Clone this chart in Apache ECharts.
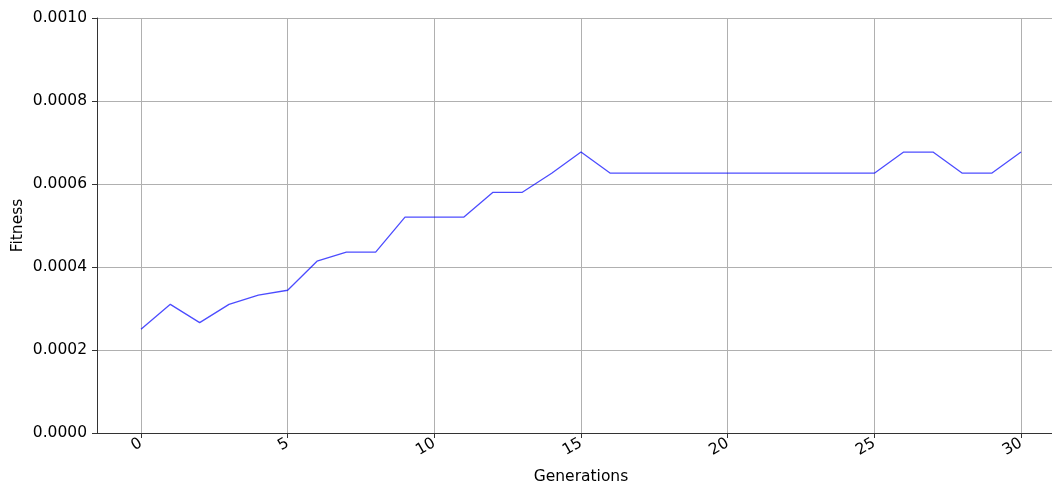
<!DOCTYPE html>
<html>
<head>
<meta charset="utf-8">
<script src="https://cdn.jsdelivr.net/npm/echarts@6/dist/echarts.min.js"></script>
<style>
  html, body { margin: 0; padding: 0; background: #fff; }
  #chart { width: 1052px; height: 483px; }
</style>
</head>
<body>
<div id="chart"></div>
<script>
// Best fitness per generation
const generations = [0,1,2,3,4,5,6,7,8,9,10,11,12,13,14,15,16,17,18,19,20,21,22,23,24,25,26,27,28,29,30];
const fitness = [
  0.000250, 0.000310, 0.000266, 0.000310, 0.000332, 0.000344,
  0.000414, 0.000436, 0.000436, 0.000520, 0.000520, 0.000520,
  0.000580, 0.000580, 0.000626, 0.000677, 0.000626, 0.000626,
  0.000626, 0.000626, 0.000626, 0.000626, 0.000626, 0.000626,
  0.000626, 0.000626, 0.000677, 0.000677, 0.000626, 0.000626,
  0.000677
];
const xTicks = [0, 5, 10, 15, 20, 25, 30];

const font = 'DejaVu Sans';
const chart = echarts.init(document.getElementById('chart'));
chart.setOption({
  animation: false,
  grid: { left: 97, right: -13, top: 18, bottom: 50, outerBoundsMode: 'none', containLabel: false },
  xAxis: {
    type: 'value',
    min: -1.5,
    max: 31.5,
    name: 'Generations',
    nameLocation: 'middle',
    nameGap: 36,
    nameMoveOverlap: false,
    nameTextStyle: { fontFamily: font, fontSize: 15.5, color: '#000' },
    axisLine: { show: true, onZero: false, lineStyle: { color: '#333', width: 1 } },
    axisTick: { show: true, length: 5, customValues: xTicks, lineStyle: { color: '#333' } },
    axisLabel: {
      customValues: xTicks, rotate: 30, margin: 9,
      fontFamily: font, fontSize: 15.5, color: '#000'
    },
    splitLine: { show: true, customValues: xTicks, lineStyle: { color: '#b0b0b0', width: 1 } }
  },
  yAxis: {
    type: 'value',
    min: 0,
    max: 0.001,
    interval: 0.0002,
    name: 'Fitness',
    nameLocation: 'middle',
    nameGap: 71,
    nameMoveOverlap: false,
    nameTextStyle: { fontFamily: font, fontSize: 15.5, color: '#000' },
    axisLine: { show: true, onZero: false, lineStyle: { color: '#333', width: 1 } },
    axisTick: { show: true, length: 5, lineStyle: { color: '#333' } },
    axisLabel: {
      margin: 10, fontFamily: font, fontSize: 15.5, color: '#000',
      formatter: v => v.toFixed(4)
    },
    splitLine: { show: true, lineStyle: { color: '#b0b0b0', width: 1 } }
  },
  series: [{
    type: 'line',
    data: generations.map((g, i) => [g, fitness[i]]),
    showSymbol: false,
    lineStyle: { color: 'rgba(0,0,255,0.7)', width: 1.3 }
  }]
});
</script>
</body>
</html>
